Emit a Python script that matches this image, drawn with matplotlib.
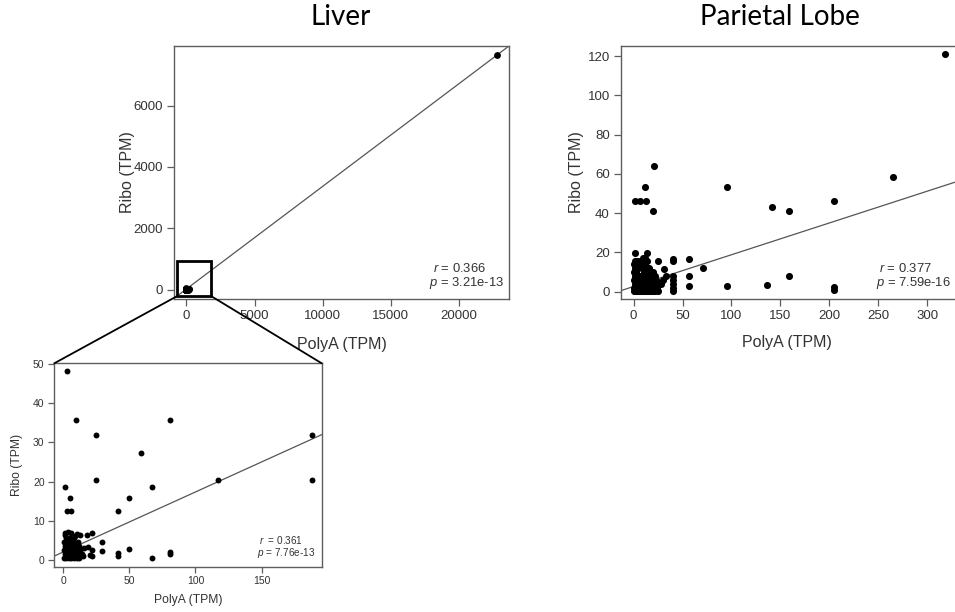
import matplotlib
matplotlib.use("Agg")
import matplotlib.pyplot as plt
from matplotlib.patches import Rectangle, ConnectionPatch

plt.rcParams['font.family'] = ['Liberation Sans', 'DejaVu Sans']
plt.rcParams['mathtext.fontset'] = 'custom'
plt.rcParams['mathtext.it'] = 'Liberation Sans:italic'
plt.rcParams['mathtext.rm'] = 'Liberation Sans'

W, H = 955, 612

# --- Liver (inset points, also the blob at the origin of the main plot) ---
liver_x = [2.5, 9.6, 25, 81, 59, 25, 117, 188, 188, 1.5, 67, 5.3, 49.5, 2.5, 5.5, 41.5,
           49.5, 41.5, 41.5, 81, 81, 67, 29, 29, 19, 20, 22, 22,
           1.3, 3.8, 1, 6, 10, 12.6, 17.7, 21.5, 9,
           0.5, 2, 4, 6, 8, 10, 12,
           1, 3, 5, 7, 9, 11, 14,
           0.5, 2, 4, 6, 8, 10, 13,
           1, 3, 5, 7, 9, 12,
           0.5, 2.5, 5, 7.5, 11,
           2, 5, 8, 15, 16]
liver_y = [48.3, 35.7, 32, 35.7, 27.2, 20.3, 20.3, 32, 20.3, 18.6, 18.6, 15.8, 15.8, 12.6, 12.6, 12.6,
           2.9, 1.7, 1.0, 2.0, 1.6, 0.5, 4.6, 2.3, 3.4, 1.3, 2.6, 1.0,
           6.8, 7.2, 6.3, 6.8, 6.6, 6.5, 6.5, 6.8, 6.2,
           0.5, 0.5, 0.5, 0.5, 0.5, 0.5, 0.5,
           1.5, 1.5, 1.5, 1.5, 1.5, 1.5, 1.5,
           2.5, 2.5, 2.5, 2.5, 2.5, 2.5, 2.5,
           3.5, 3.5, 3.5, 3.5, 3.5, 3.5,
           4.5, 4.5, 4.5, 4.5, 4.5,
           5.5, 5.5, 5.5, 1.0, 3.0]
liver_out_x = [22750]
liver_out_y = [7640]

# --- Parietal Lobe ---
par_x = [318, 265, 205, 159, 141, 95, 20.5, 12, 2, 7, 13, 19.5, 71, 159, 136, 95, 205, 205,
         57, 57, 57, 40, 40, 40, 40, 40, 40, 40, 31, 25, 14, 1,
         0.5, 2, 4, 6, 8, 10, 12, 14, 16, 18, 20, 22, 25,
         0.5, 3, 5, 7, 9, 11, 13, 15, 17, 19, 21, 24,
         1, 3, 6, 8, 10, 12, 15, 18, 21, 25, 28,
         0.5, 2, 5, 9, 11, 14, 17, 20, 23, 30,
         1, 4, 7, 10, 13, 16, 19, 22, 33,
         0.5, 3, 11, 14, 17, 20,
         1, 5, 9, 13, 16,
         0.5, 4, 8, 12,
         1, 4, 7, 11, 14,
         10, 12]
par_y = [121, 58.5, 46, 41, 43, 53.5, 64, 53.5, 46, 46, 46, 41, 12, 8, 3.5, 3, 2.3, 1,
         16.5, 8, 3, 16.5, 15.5, 8, 6, 4, 2, 0.5, 11.5, 15.5, 19.8, 19.8,
         0.5, 0.5, 0.5, 0.5, 0.5, 0.5, 0.5, 0.5, 0.5, 0.5, 0.5, 0.5, 0.5,
         2, 2, 2, 2, 2, 2, 2, 2, 2, 2, 2, 2,
         4, 4, 4, 4, 4, 4, 4, 4, 4, 4, 4,
         6, 6, 6, 6, 6, 6, 6, 6, 6, 6,
         8, 8, 8, 8, 8, 8, 8, 8, 8,
         10, 10, 10, 10, 10, 10,
         12, 12, 12, 12, 12,
         14, 14, 14, 14,
         15.5, 15.5, 15.5, 15.5, 15.5,
         17, 17]

# regression lines (intercept, slope)
liver_fit = (20, 0.335)
inset_fit = (2.06, 0.153)
par_fit = (2.55, 0.162)

liver_stats = ["$r$ = 0.366", "$p$ = 3.21e-13"]
inset_stats = ["$r$  = 0.361", "$p$ = 7.76e-13"]
par_stats = ["$r$ = 0.377", "$p$ = 7.59e-16"]

liver_xticks = [0, 5000, 10000, 15000, 20000]
liver_yticks = [0, 2000, 4000, 6000]
inset_xticks = [0, 50, 100, 150]
inset_yticks = [0, 10, 20, 30, 40, 50]
par_xticks = [0, 50, 100, 150, 200, 250, 300]
par_yticks = [0, 20, 40, 60, 80, 100, 120]

# zoom box drawn on the liver plot (data units)
zoom_box = (-706, -218, 1838, 922)

BOX = '#5e5e5e'
TXT = '#333333'


def rect(l, t, r, b):
    return [l / W, 1 - b / H, (r - l) / W, (b - t) / H]


def style(ax, fs, ticklen):
    for s in ax.spines.values():
        s.set_color(BOX)
        s.set_linewidth(1.0)
    ax.tick_params(direction='out', length=ticklen, width=0.9, color=BOX,
                   labelsize=fs, labelcolor=TXT, pad=3)


fig = plt.figure(figsize=(W / 100, H / 100), dpi=100)

ax1 = fig.add_axes(rect(174, 46, 509, 299))
ax2 = fig.add_axes(rect(621, 46, 959.5, 299))
ax3 = fig.add_axes(rect(54.3, 363.3, 321.7, 566.7))

# Liver main
ax1.scatter(liver_x + liver_out_x, liver_y + liver_out_y, s=24, c='black', lw=0, zorder=3)
ax1.axline((0, liver_fit[0]), slope=liver_fit[1], color='#555555', lw=0.9)
ax1.set_xlim(-910, 23660)
ax1.set_ylim(-306, 7946)
ax1.set_xticks(liver_xticks)
ax1.set_yticks(liver_yticks)
style(ax1, 9.5, 5)

# Parietal
ax2.scatter(par_x, par_y, s=26, c='black', lw=0, zorder=3)
ax2.axline((0, par_fit[0]), slope=par_fit[1], color='#555555', lw=0.9)
ax2.set_xlim(-12.8, 332.8)
ax2.set_ylim(-3.8, 125.1)
ax2.set_xticks(par_xticks)
ax2.set_yticks(par_yticks)
style(ax2, 9.5, 5)

# Inset
ax3.scatter(liver_x, liver_y, s=18, c='black', lw=0, zorder=3)
ax3.axline((0, inset_fit[0]), slope=inset_fit[1], color='#555555', lw=0.9)
ax3.set_xlim(-6.8, 195.5)
ax3.set_ylim(-1.7, 50.17)
ax3.set_xticks(inset_xticks)
ax3.set_yticks(inset_yticks)
style(ax3, 7.5, 4)

# axis labels
for ax, fs, xl, yl in [(ax1, 11.5, (342, 345), (128, 172)),
                       (ax2, 11.5, (787, 342), (577, 172)),
                       (ax3, 8.7, (188, 600), (17, 465))]:
    ax.set_xlabel('PolyA (TPM)', fontsize=fs, color=TXT, va='center')
    ax.set_ylabel('Ribo (TPM)', fontsize=fs, color=TXT, va='center')
    inv = ax.transAxes.inverted()
    ax.xaxis.set_label_coords(*inv.transform((xl[0], H - xl[1])))
    ax.yaxis.set_label_coords(*inv.transform((yl[0], H - yl[1])))

# stats
for stats, pos, fs in [(liver_stats, [(433, 268), (429, 283)], 9.4),
                       (par_stats, [(879, 268), (876, 283)], 9.4),
                       (inset_stats, [(259, 540), (257, 553)], 7.2)]:
    for s, (px, py) in zip(stats, pos):
        fig.text(px / W, 1 - py / H, s, fontsize=fs, color=TXT, ha='left', va='center')

# titles
fig.text(341 / W, 1 - 17 / H, 'Liver', fontsize=20, family='Lato', ha='center', va='center')
fig.text(780 / W, 1 - 17 / H, 'Parietal Lobe', fontsize=20, family='Lato', ha='center', va='center')

# zoom box and connectors
x0, y0, x1, y1 = zoom_box
ax1.add_patch(Rectangle((x0, y0), x1 - x0, y1 - y0, fill=False, ec='black', lw=2,
                        clip_on=False, zorder=4))
for xa, xb in [(x0, 0), (x1, 1)]:
    con = ConnectionPatch(xyA=(xa, y0), coordsA=ax1.transData, xyB=(xb, 1),
                          coordsB=ax3.transAxes, color='black', lw=1.3)
    fig.add_artist(con)

fig.savefig('out.png', dpi=100)
